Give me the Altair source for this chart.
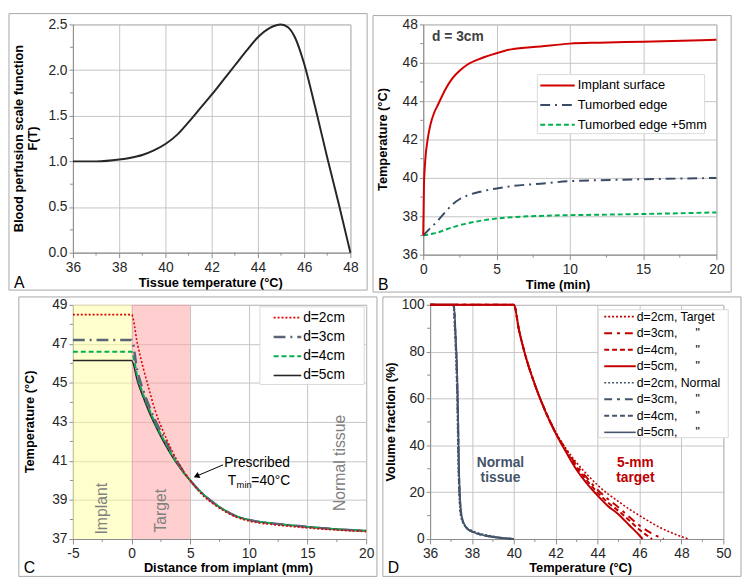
import altair as alt
import pandas as pd

FONT = "Liberation Sans"
AXC = "#8C8C8C"
GRID = "#C4C4C4"
LAB = "#262626"
FRAME = "#A6A6A6"

# ---------------- Panel A data ----------------
a_temp = [36, 37, 38, 38.5, 39, 39.5, 40, 40.5, 41, 41.5, 42, 42.5, 43, 43.5, 44, 44.5, 45, 45.3, 45.6, 46, 46.5, 47, 47.5, 48]
a_perf = [1.00, 1.00, 1.02, 1.04, 1.07, 1.12, 1.19, 1.29, 1.43, 1.58, 1.73, 1.89, 2.05, 2.21, 2.36, 2.46, 2.50, 2.47, 2.36, 2.07, 1.57, 1.04, 0.53, 0.0]
a_xticks = [36, 38, 40, 42, 44, 46, 48]
a_yticks = [0, 0.5, 1.0, 1.5, 2.0, 2.5]
a_xminor = [37, 39, 41, 43, 45, 47]
a_yminor = [0.25, 0.75, 1.25, 1.75, 2.25]

# ---------------- Panel B data ----------------
b_time = [0, 0.05, 0.15, 0.3, 0.5, 0.75, 1, 1.5, 2, 2.5, 3, 4, 5, 6, 8, 10, 12, 15, 20]
b_implant = [37.0, 39.6, 41.0, 42.0, 42.8, 43.4, 43.8, 44.6, 45.2, 45.6, 45.9, 46.25, 46.5, 46.7, 46.85, 47.0, 47.05, 47.1, 47.2]
b_edge = [37.0, 37.04, 37.12, 37.24, 37.4, 37.58, 37.78, 38.22, 38.62, 38.9, 39.08, 39.3, 39.45, 39.57, 39.7, 39.83, 39.88, 39.93, 40.0]
b_edge5 = [37.0, 37.01, 37.02, 37.04, 37.07, 37.11, 37.15, 37.3, 37.42, 37.54, 37.63, 37.78, 37.88, 37.95, 38.02, 38.06, 38.08, 38.12, 38.2]
b_labels = ["Implant surface", "Tumorbed edge", "Tumorbed edge +5mm"]
b_xticks = [0, 5, 10, 15, 20]
b_yticks = [36, 38, 40, 42, 44, 46, 48]
b_xminor = [2.5, 7.5, 12.5, 17.5]
b_yminor = [37, 39, 41, 43, 45, 47]

# ---------------- Panel C data ----------------
c_dist = [-5, 0, 0.5, 1, 1.5, 2, 2.5, 3, 3.5, 4, 4.5, 5, 6, 7, 8, 9, 10, 12, 14, 16, 18, 20]
c_d2 = [48.5, 48.5, 47.0, 45.75, 44.65, 43.6, 42.8, 42.1, 41.45, 40.9, 40.4, 40.0, 39.28, 38.78, 38.4, 38.1, 37.92, 37.74, 37.62, 37.52, 37.44, 37.38]
c_d3 = [47.2, 47.2, 45.6, 44.6, 43.8, 43.1, 42.5, 41.9, 41.35, 40.85, 40.4, 40.0, 39.35, 38.85, 38.45, 38.15, 37.98, 37.8, 37.68, 37.57, 37.48, 37.42]
c_d4 = [46.6, 46.6, 45.3, 44.4, 43.65, 42.95, 42.35, 41.8, 41.25, 40.8, 40.38, 40.0, 39.35, 38.85, 38.45, 38.15, 37.98, 37.8, 37.68, 37.57, 37.48, 37.42]
c_d5 = [46.15, 46.15, 45.1, 44.25, 43.5, 42.85, 42.25, 41.7, 41.2, 40.75, 40.35, 40.0, 39.35, 38.85, 38.45, 38.15, 37.98, 37.8, 37.68, 37.57, 37.48, 37.42]
c_labels = ["d=2cm", "d=3cm", "d=4cm", "d=5cm"]
c_xticks = [-5, 0, 5, 10, 15, 20]
c_yticks = [37, 39, 41, 43, 45, 47, 49]
c_xminor = [-2.5, 2.5, 7.5, 12.5, 17.5]
c_yminor = [38, 40, 42, 44, 46, 48]

# ---------------- Panel D data ----------------
d_t2_temp = [36, 40, 40.25, 40.5, 41, 41.5, 42, 42.5, 43, 43.5, 44, 44.5, 45, 45.5, 46, 46.5, 47, 47.5, 48, 48.35]
d_t2_vol = [100, 100, 89, 80, 66, 55, 45.6, 38.5, 32.5, 27.5, 23, 19.2, 16, 12.8, 10, 7.3, 4.8, 2.8, 1.0, 0]
d_t3_temp = [36, 40, 40.25, 40.5, 41, 41.5, 42, 42.5, 43, 43.5, 44, 44.5, 45, 45.5, 46, 46.5, 47.15]
d_t3_vol = [100, 100, 89, 80, 66, 54.8, 45.4, 38, 31.5, 26, 21, 17, 13.5, 9.5, 5.8, 2.8, 0]
d_t4_temp = [36, 40, 40.25, 40.5, 41, 41.5, 42, 42.5, 43, 43.5, 44, 44.5, 45, 45.5, 46, 46.6]
d_t4_vol = [100, 100, 89, 80, 66, 54.6, 45.2, 37.5, 30.5, 24.8, 19.8, 15.5, 12, 8, 4, 0]
d_t5_temp = [36, 40, 40.25, 40.5, 41, 41.5, 42, 42.5, 43, 43.5, 44, 44.5, 45, 45.5, 46, 46.15]
d_t5_vol = [100, 100, 89, 80, 66, 54.5, 45, 37, 29.5, 23.5, 18.5, 14, 10.5, 6, 1.5, 0]
d_n2_temp = [36, 37.1, 37.18, 37.24, 37.28, 37.31, 37.34, 37.38, 37.46, 37.58, 37.75, 38.0, 38.3, 38.7, 39.2, 39.6, 40.0]
d_n2_vol = [100, 100, 88, 75, 62, 48, 32, 20, 10, 6.8, 4.8, 3.6, 2.6, 1.7, 0.9, 0.4, 0]
d_n3_temp = [36, 37.12, 37.2, 37.26, 37.3, 37.33, 37.36, 37.4, 37.48, 37.6, 37.75, 38.0, 38.3, 38.7, 39.2, 39.6, 40.0]
d_n3_vol = [100, 100, 88, 75, 62, 48, 32, 20, 10, 6.5, 4.5, 3.2, 2.2, 1.4, 0.7, 0.3, 0]
d_n4_temp = [36, 37.13, 37.21, 37.27, 37.31, 37.34, 37.37, 37.41, 37.5, 37.62, 37.78, 38.02, 38.32, 38.72, 39.2, 39.6, 40.0]
d_n4_vol = [100, 100, 88, 75, 62, 48, 32, 20, 10, 6.4, 4.4, 3.1, 2.1, 1.3, 0.65, 0.28, 0]
d_n5_temp = [36, 37.14, 37.22, 37.28, 37.32, 37.35, 37.38, 37.42, 37.51, 37.64, 37.8, 38.05, 38.35, 38.75, 39.2, 39.6, 40.0]
d_n5_vol = [100, 100, 88, 75, 62, 48, 32, 20, 10, 6.2, 4.2, 3.0, 2.0, 1.2, 0.6, 0.25, 0]
d_labels = ["d=2cm, Target", "d=3cm,", "d=4cm,", "d=5cm,", "d=2cm, Normal", "d=3cm,", "d=4cm,", "d=5cm,"]
d_ditto = [False, True, True, True, False, True, True, True]
d_xticks = [36, 38, 40, 42, 44, 46, 48, 50]
d_yticks = [0, 20, 40, 60, 80, 100]
d_xminor = [37, 39, 41, 43, 45, 47, 49]
d_yminor = [10, 30, 50, 70, 90]

DUMMY = pd.DataFrame({"k": [0]})


def axis(vals, bottom, fmt=None, lexpr=None):
    kw = dict(values=vals, title=None, grid=True, gridColor=GRID, gridWidth=1, gridOpacity=1,
              domainColor=AXC, domainWidth=1, tickColor=AXC, tickWidth=1,
              tickSize=5 if bottom else 4, labelFont=FONT, labelFontSize=14,
              labelColor=LAB, labelPadding=3 if bottom else 2,
              labelFlush=False, labelOverlap=False)
    if fmt:
        kw["format"] = fmt
    if lexpr:
        kw["labelExpr"] = lexpr
    return alt.Axis(**kw)


def encoders(xdom, xvals, ydom, yvals, xfmt=None, yfmt=None, xlexpr=None):
    xs = alt.Scale(domain=xdom, nice=False, zero=False)
    ys = alt.Scale(domain=ydom, nice=False, zero=False)
    xa = axis(xvals, True, xfmt, xlexpr)
    ya = axis(yvals, False, yfmt)
    def xe(f):
        return alt.X(f, type="quantitative", scale=xs, axis=xa)
    def ye(f):
        return alt.Y(f, type="quantitative", scale=ys, axis=ya)
    return xe, ye


def line(xs, ys, xe, ye, color, width, dash=None):
    df = pd.DataFrame({"x": xs, "y": ys})
    kw = dict(color=color, strokeWidth=width, interpolate="monotone")
    if dash:
        kw["strokeDash"] = dash
    return alt.Chart(df).mark_line(**kw).encode(x=xe("x"), y=ye("y"))


def minor(xvals, yvals, xe, ye, h):
    mx = alt.Chart(pd.DataFrame({"v": xvals})).mark_rule(color=AXC, strokeWidth=1).encode(
        x=xe("v"), y=alt.value(h), y2=alt.value(h + 3))
    my = alt.Chart(pd.DataFrame({"v": yvals})).mark_rule(color=AXC, strokeWidth=1).encode(
        y=ye("v"), x=alt.value(0), x2=alt.value(-3))
    return [mx, my]


def ptext(text, x, y, size=13, bold=False, angle=0, align="center", baseline="middle", color="#000000"):
    kw = dict(text=text, font=FONT, fontSize=size, align=align, baseline=baseline, color=color)
    if bold:
        kw["fontWeight"] = "bold"
    if angle:
        kw["angle"] = angle
    return alt.Chart(DUMMY).mark_text(**kw).encode(x=alt.value(x), y=alt.value(y))


def dtext(text, x, y, xe, ye, size=14, bold=False, angle=0, align="center", baseline="middle",
          color="#000000", dx=0, dy=0):
    kw = dict(text=text, font=FONT, fontSize=size, align=align, baseline=baseline, color=color)
    if bold:
        kw["fontWeight"] = "bold"
    if angle:
        kw["angle"] = angle
    if dx:
        kw["dx"] = dx
    if dy:
        kw["dy"] = dy
    return alt.Chart(pd.DataFrame({"x": [x], "y": [y]})).mark_text(**kw).encode(x=xe("x"), y=ye("y"))


def rect(x1, x2, y1, y2, fill=None, stroke=None):
    kw = {}
    if fill:
        kw["fill"] = fill
    else:
        kw["fillOpacity"] = 0
    if stroke:
        kw["stroke"] = stroke
        kw["strokeWidth"] = 1
    return alt.Chart(DUMMY).mark_rect(**kw).encode(
        x=alt.value(x1), x2=alt.value(x2), y=alt.value(y1), y2=alt.value(y2))


def legend_entry(y, x0, x1, xt, color, width, dash, label, size):
    kw = dict(color=color, strokeWidth=width)
    if dash:
        kw["strokeDash"] = dash
    r = alt.Chart(DUMMY).mark_rule(**kw).encode(x=alt.value(x0), x2=alt.value(x1), y=alt.value(y))
    t = ptext(label, xt, y, size=size, align="left")
    return [r, t]


# ================= Panel A =================
AW, AH = 282, 232
xe, ye = encoders([36, 48], a_xticks, [0, 2.5], a_yticks, yfmt=".1f")
A_layers = [line(a_temp, a_perf, xe, ye, "#262626", 2)]
A_layers += minor(a_xminor, a_yminor, xe, ye, AH)
A_layers += [
    ptext("Blood perfusion scale function", -55, AH / 2, size=13, bold=True, angle=270),
    ptext("F(T)", -41, AH / 2, size=13, bold=True, angle=270),
    ptext("Tissue temperature (°C)", 140, 263, size=13, bold=True),
    ptext("A", -60, 268, size=16, align="left", baseline="alphabetic"),
    rect(-65, 299, -11, 270, stroke=FRAME),
]
A = alt.layer(*A_layers).properties(width=AW, height=AH)

# ================= Panel B =================
BW, BH = 298, 234
xe, ye = encoders([0, 20], b_xticks, [36, 48], b_yticks)
b_styles = [("#D00000", 2, None), ("#3B4B66", 2, [10, 5, 2, 5]), ("#00B050", 2, [5, 3])]
B_layers = [
    line(b_time, b_edge5, xe, ye, *b_styles[2]),
    line(b_time, b_edge, xe, ye, *b_styles[1]),
    line(b_time, b_implant, xe, ye, *b_styles[0]),
]
B_layers += minor(b_xminor, b_yminor, xe, ye, BH)
B_layers += [
    ptext("Temperature (°C)", -41, BH / 2, size=13, bold=True, angle=270),
    ptext("Time (min)", 137, 265, size=13, bold=True),
    ptext("d = 3cm", 9, 13, size=14, bold=True, align="left", color="#404040"),
    ptext("B", -46, 270, size=16, align="left", baseline="alphabetic"),
    rect(116, 286, 51, 111, fill="#FFFFFF", stroke="#D9D9D9"),
]
for i, lab in enumerate(b_labels):
    c, w, d = b_styles[i]
    B_layers += legend_entry(62 + 20 * i, 119, 154, 157, c, w, d, lab, 13)
B_layers.append(rect(-51, 313, -9, 272, stroke=FRAME))
B = alt.layer(*B_layers).properties(width=BW, height=BH)

# ================= Panel C =================
CW, CH = 298, 238
xe, ye = encoders([-5, 20], c_xticks, [37, 49], c_yticks, xlexpr="'' + datum.value")
shade = pd.DataFrame({"x": [-5, 0], "x2": [0, 5], "c": ["imp", "tgt"]})
C_layers = [
    alt.Chart(shade).mark_rect(opacity=0.5).encode(
        x=xe("x"), x2="x2", y=alt.value(0), y2=alt.value(CH),
        color=alt.Color("c:N", scale=alt.Scale(domain=["imp", "tgt"], range=["#FFFF9C", "#FF9E9E"]), legend=None)),
]
c_styles = [("#E00000", 1.6, [2, 2]), ("#5B6475", 2.5, [12, 5, 2, 5]), ("#00B050", 2, [5, 3]), ("#262626", 1.6, None)]
c_series = [c_d2, c_d3, c_d4, c_d5]
for i in [3, 2, 1, 0]:
    c, w, d = c_styles[i]
    C_layers.append(line(c_dist, c_series[i], xe, ye, c, w, d))
C_layers += minor(c_xminor, c_yminor, xe, ye, CH)
arrow = pd.DataFrame({"x": [7.8], "y": [40.8], "x2": [5.6], "y2": [40.24]})
C_layers += [
    dtext("Implant", -2.5, 38.55, xe, ye, size=16, angle=270, color="#808080"),
    dtext("Target", 2.55, 38.45, xe, ye, size=16, angle=270, color="#808080"),
    dtext("Normal tissue", 17.75, 40.9, xe, ye, size=16, angle=270, color="#808080"),
    dtext("Prescribed", 10.7, 40.9, xe, ye, size=14),
    dtext("T", 8.2, 39.95, xe, ye, size=14, align="left"),
    dtext("min", 8.2, 39.95, xe, ye, size=9.5, align="left", dx=9, dy=4),
    dtext("=40°C", 8.2, 39.95, xe, ye, size=14, align="left", dx=24),
    alt.Chart(arrow).mark_rule(color="#000000", strokeWidth=1).encode(
        x=xe("x"), y=ye("y"), x2="x2", y2="y2"),
    alt.Chart(arrow).mark_point(shape="triangle", angle=247, size=45, filled=True, color="#000000", opacity=1).encode(
        x=xe("x2"), y=ye("y2")),
    rect(190, 296, 2, 81, fill="#FFFFFF", stroke="#D9D9D9"),
]
for i, lab in enumerate(c_labels):
    c, w, d = c_styles[i]
    C_layers += legend_entry(13 + 19.6 * i, 204, 232, 234, c, w, d, lab, 14)
C_layers += [
    ptext("Temperature (°C)", -44, CH / 2, size=13, bold=True, angle=270),
    ptext("Distance from implant (mm)", 158, 268, size=13, bold=True),
    ptext("C", -50, 273, size=16, align="left", baseline="alphabetic"),
    rect(-55, 309, -8, 276, stroke=FRAME),
]
C = alt.layer(*C_layers).properties(width=CW, height=CH)

# ================= Panel D =================
DW, DH = 298, 238
xe, ye = encoders([36, 50], d_xticks, [0, 100], d_yticks)
RED = "#C00000"
SLATE = "#44546A"
d_styles = [(RED, 1.6, [2, 2]), (RED, 2, [8, 5, 3, 5]), (RED, 2, [5, 3]), (RED, 2, None),
            (SLATE, 1.6, [2, 2]), (SLATE, 2, [8, 5, 3, 5]), (SLATE, 2, [5, 3]), (SLATE, 1.6, None)]
d_series = [(d_t2_temp, d_t2_vol), (d_t3_temp, d_t3_vol), (d_t4_temp, d_t4_vol), (d_t5_temp, d_t5_vol),
            (d_n2_temp, d_n2_vol), (d_n3_temp, d_n3_vol), (d_n4_temp, d_n4_vol), (d_n5_temp, d_n5_vol)]
D_layers = []
for i in [7, 6, 5, 4, 3, 2, 1, 0]:
    c, w, d = d_styles[i]
    D_layers.append(line(d_series[i][0], d_series[i][1], xe, ye, c, w, d))
D_layers += minor(d_xminor, d_yminor, xe, ye, DH)
D_layers += [
    dtext("Normal", 39.36, 32.6, xe, ye, size=14, bold=True, color=SLATE),
    dtext("tissue", 39.36, 26.0, xe, ye, size=14, bold=True, color=SLATE),
    dtext("5-mm", 45.8, 32.6, xe, ye, size=14, bold=True, color=RED),
    dtext("target", 45.8, 26.0, xe, ye, size=14, bold=True, color=RED),
    rect(171, 303, 5, 135, fill="#FFFFFF", stroke="#D9D9D9"),
]
for i, lab in enumerate(d_labels):
    c, w, d = d_styles[i]
    yy = 12 + 16.8 * i
    D_layers += legend_entry(yy, 177, 209, 210, c, w, d, lab, 12.5)
    if d_ditto[i]:
        D_layers.append(ptext('"', 272, yy, size=12.5))
D_layers += [
    ptext("Volume fraction (%)", -40, DH / 2, size=13, bold=True, angle=270),
    ptext("Temperature (°C)", 153, 268, size=13, bold=True),
    ptext("D", -43, 273, size=16, align="left", baseline="alphabetic"),
    rect(-48, 316, -8, 276, stroke=FRAME),
]
D = alt.layer(*D_layers).properties(width=DW, height=DH)

chart = alt.vconcat(
    alt.hconcat(A, B, spacing=4),
    alt.hconcat(C, D, spacing=4),
    spacing=2,
).properties(
    padding={"left": 0, "top": 0, "right": 0, "bottom": 0}
).configure(
    font=FONT, background="#FFFFFF"
).configure_view(
    stroke="#AFAFAF", strokeWidth=1
)

chart.save("out.html", embed_options={"renderer": "svg", "actions": False})
